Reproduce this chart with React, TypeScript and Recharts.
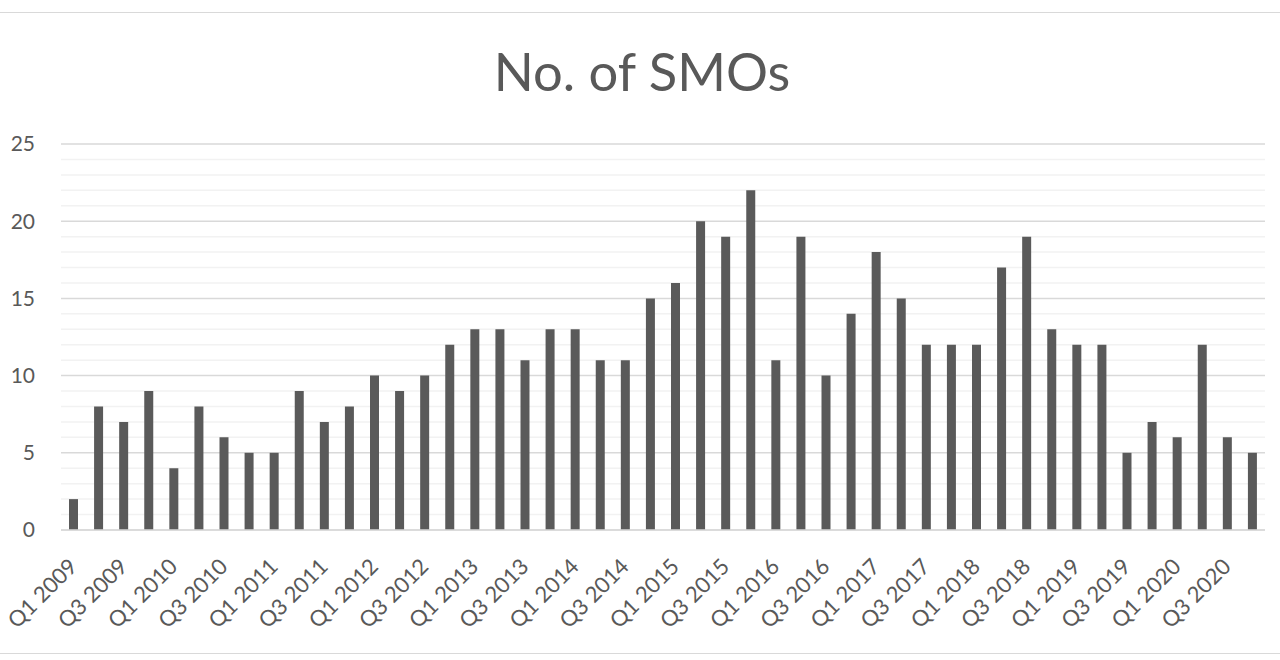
import React from "react";
import { BarChart, Bar, XAxis, YAxis, CartesianGrid } from "recharts";

const years = ["2009", "2010", "2011", "2012", "2013", "2014", "2015", "2016", "2017", "2018", "2019", "2020"];
const quarters = ["Q1", "Q2", "Q3", "Q4"];
const categories = years.flatMap((yr) => quarters.map((q) => `${q} ${yr}`));

const smoCounts = [
  2, 8, 7, 9, 4, 8, 6, 5, 5, 9, 7, 8,
  10, 9, 10, 12, 13, 13, 11, 13, 13, 11, 11, 15,
  16, 20, 19, 22, 11, 19, 10, 14, 18, 15, 12, 12,
  12, 17, 19, 13, 12, 12, 5, 7, 6, 12, 6, 5,
];

const yTicks = [0, 1, 2, 3, 4, 5, 6, 7, 8, 9, 10, 11, 12, 13, 14, 15, 16, 17, 18, 19, 20, 21, 22, 23, 24, 25];
const yLabels = [0, 5, 10, 15, 20, 25];

const data = categories.map((name, i) => ({ name, value: smoCounts[i] }));

const FONT = "Lato, 'Open Sans', sans-serif";
const TEXT = "#595959";

const gridLine = (props: any) => {
  const major = props.index % 5 === 0;
  return (
    <line
      key={props.key}
      x1={props.x1}
      y1={props.y1}
      x2={props.x2}
      y2={props.y2}
      stroke={major ? "#d9d9d9" : "#f2f2f2"}
      strokeWidth={1.5}
      fill="none"
    />
  );
};

const XTick = (props: any) => {
  const { x, y, payload } = props;
  return (
    <g transform={`translate(${x + 5},${y + 38})`}>
      <text
        x={0}
        y={0}
        textAnchor="end"
        transform="rotate(-45)"
        fill={TEXT}
        fontSize={22}
        fontFamily={FONT}
      >
        {payload.value}
      </text>
    </g>
  );
};

export default function App() {
  return (
    <div style={{ position: "absolute", left: 0, top: 0, width: 1280, height: 660, background: "#fff" }}>
      <div
        style={{
          position: "absolute",
          left: 0,
          top: 12,
          width: 1280,
          height: 640,
          borderTop: "1px solid #d9d9d9",
          borderBottom: "1px solid #d9d9d9",
        }}
      />
      <div
        style={{
          position: "absolute",
          left: 0,
          top: 39,
          width: 1284,
          textAlign: "center",
          fontFamily: FONT,
          fontSize: 52.5,
          color: TEXT,
          lineHeight: "normal",
        }}
      >
        No. of SMOs
      </div>
      <div style={{ position: "absolute", left: 0, top: 0 }}>
        <BarChart
          width={1280}
          height={660}
          data={data}
          margin={{ top: 144, right: 15, bottom: 30, left: 0 }}
        >
          <CartesianGrid vertical={false} horizontal={gridLine} />
          <XAxis
            dataKey="name"
            interval={1}
            tickLine={false}
            tickSize={0}
            tickMargin={0}
            height={100}
            axisLine={{ stroke: "#d9d9d9", strokeWidth: 1.5 }}
            tick={<XTick />}
          />
          <YAxis
            width={61}
            domain={[0, 25]}
            ticks={yTicks}
            interval={0}
            axisLine={false}
            tickLine={false}
            tickSize={0}
            tickMargin={26}
            tickFormatter={(v: number) => (yLabels.includes(v) ? String(v) : "")}
            tick={{ fill: TEXT, fontSize: 21, fontFamily: FONT }}
          />
          <Bar dataKey="value" fill="#5a5a5a" barSize={9} isAnimationActive={false} />
        </BarChart>
      </div>
    </div>
  );
}
